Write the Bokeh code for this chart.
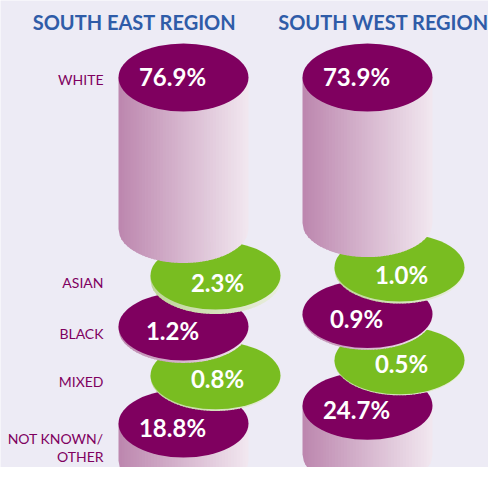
import numpy as np
from bokeh.plotting import figure
from bokeh.models import Range1d
from bokeh.core.properties import value
from bokeh.embed import file_html
from bokeh.resources import INLINE

# ---------------- data ----------------
categories = ["WHITE", "ASIAN", "BLACK", "MIXED", "NOT KNOWN/\nOTHER"]
regions = ["SOUTH EAST REGION", "SOUTH WEST REGION"]
south_east = [76.9, 2.3, 1.2, 0.8, 18.8]
south_west = [73.9, 1.0, 0.9, 0.5, 24.7]
series = [south_east, south_west]

# ---------------- style / layout ----------------
PW, PH = 488, 467
H = 483
BG = "#EDEBF5"
PURPLE = "#7F005F"
GREEN = "#79BD21"
BLUE = "#2F5CA8"
FONT = "Lato"
row_is_green = [False, True, False, True, False]
PX_PER_PCT = 1.97
EW, EH = 130, 68
col_cx = [183, 367]
green_dx = 32
top0 = 77
gaps = [46.5, 44.5]
text_dy = [-1, 7, 4, 3, 4]
label_dy = [2, 7, 7, 6, 24]
title_cx = [134, 383]


def Y(py):
    return H - py


p = figure(width=PW, height=PH, x_range=Range1d(0, PW), y_range=Range1d(Y(PH), Y(0)),
           output_backend="svg", toolbar_location=None, min_border=0)
p.axis.visible = False
p.grid.visible = False
p.outline_line_color = None
p.background_fill_color = BG
p.border_fill_color = BG


def lerp(c0, c1, t):
    return "#%02x%02x%02x" % tuple(int(round(a + (b - a) * t)) for a, b in zip(c0, c1))


PURPLE_SIDE = ((188, 134, 174), (242, 232, 240))
GREEN_SIDE = ((190, 214, 150), (234, 238, 224))

# geometry of the stacks, derived from the values
layout = []  # per column: list of (cx, top_center_y, thickness)
for c, vals in enumerate(series):
    items = []
    y = top0
    for r, v in enumerate(vals):
        cx = col_cx[c] + (green_dx if row_is_green[r] else 0)
        t = v * PX_PER_PCT
        items.append((cx, y, t))
        y = y + t + gaps[c]
    layout.append(items)

NSTRIP = 44
for r in reversed(range(len(categories))):
    xs, ys, cols = [], [], []
    ex, ey, ecol = [], [], []
    for c in range(len(series)):
        cx, ty, t = layout[c][r]
        bc = ty + t
        grad = GREEN_SIDE if row_is_green[r] else PURPLE_SIDE
        edges = np.linspace(cx - EW / 2, cx + EW / 2, NSTRIP + 1)
        for i in range(NSTRIP):
            x0, x1 = edges[i], min(edges[i + 1] + 0.8, cx + EW / 2)
            sub = np.linspace(x0, x1, 4)
            arc = [bc + (EH / 2) * np.sqrt(max(0.0, 1 - ((sx - cx) / (EW / 2)) ** 2)) for sx in sub]
            px = [x0] + list(sub) + [x1]
            py = [ty] + arc + [ty]
            xs.append(px)
            ys.append([Y(v) for v in py])
            cols.append(lerp(grad[0], grad[1], (i + 0.5) / NSTRIP))
        ex.append(cx)
        ey.append(Y(ty))
        ecol.append(GREEN if row_is_green[r] else PURPLE)
    p.patches(xs, ys, fill_color=cols, line_color=None)
    p.ellipse(ex, ey, width=EW, height=EH, fill_color=ecol, line_color=None)

# percentage texts
tx, ty_, tt = [], [], []
for c, vals in enumerate(series):
    for r, v in enumerate(vals):
        cx, y, t = layout[c][r]
        dx = 2 if row_is_green[r] else -11
        tx.append(cx + dx)
        ty_.append(Y(y + text_dy[r]))
        tt.append(f"{v:.1f}%")
p.text(tx, ty_, text=tt, text_color="white", text_font=value(FONT), text_font_style="bold",
       text_font_size="24px", text_align="center", text_baseline="middle")

# category labels
lx, ly = [], []
for r, cat in enumerate(categories):
    lx.append(103)
    ly.append(Y(layout[0][r][1] + label_dy[r]))
p.text(lx, ly, text=categories, text_color=PURPLE, text_font=value(FONT),
       text_font_size="14px", text_align="right", text_baseline="middle", text_line_height=1.1)

# titles
p.text(title_cx, [Y(21.5)] * 2, text=regions, text_color=BLUE, text_font=value(FONT),
       text_font_style="bold", text_font_size="20px", text_align="center", text_baseline="middle")

open("out.html", "w").write(file_html(p, INLINE))
